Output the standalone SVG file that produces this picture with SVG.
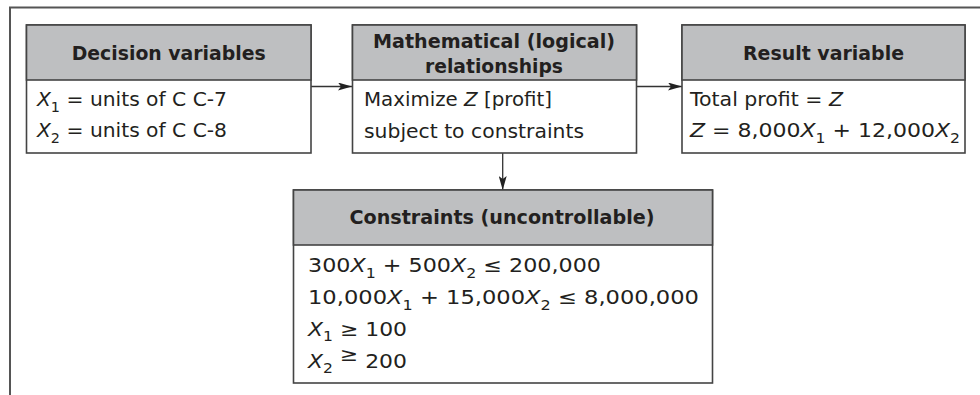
<svg xmlns="http://www.w3.org/2000/svg" width="980" height="395" viewBox="0 0 980 395">
<style>
.frame{fill:none;stroke:#555;stroke-width:2}
.box{fill:#fff;stroke:#444;stroke-width:1.6}
.hdr{fill:#bebfc1;stroke:#444;stroke-width:1.6}
.h{font-family:"DejaVu Sans",sans-serif;font-weight:bold;font-size:19px;fill:#231f20;text-anchor:middle}
.b{font-family:"DejaVu Sans",sans-serif;font-size:19px;fill:#231f20}
.i{font-style:italic}
.s{font-size:13.5px}
.conn{stroke:#333;stroke-width:1.3;fill:none}
</style>
<defs>
<marker id="arr" markerUnits="userSpaceOnUse" markerWidth="14" markerHeight="8" refX="14" refY="4" orient="auto">
<path d="M0,0 L14,4 L0,8 L3,4 z" fill="#222"/>
</marker>
</defs>
<path class="frame" d="M10,395 L10,7.5 L980,7.5"/>
<g id="connectors">
<line class="conn" x1="311" y1="86.5" x2="352" y2="86.5" marker-end="url(#arr)"/>
<line class="conn" x1="637" y1="86.5" x2="682" y2="86.5" marker-end="url(#arr)"/>
<line class="conn" x1="502.7" y1="153" x2="502.7" y2="190" marker-end="url(#arr)"/>
</g>
<g id="decision">
<rect class="box" x="26.5" y="25" width="284.5" height="128"/>
<rect class="hdr" x="26.5" y="25" width="284.5" height="55"/>
<text class="h" x="168.7" y="60" textLength="194" lengthAdjust="spacingAndGlyphs">Decision variables</text>
<text class="b" x="37" y="106" textLength="190" lengthAdjust="spacingAndGlyphs"><tspan class="i">X</tspan><tspan class="s" dy="6">1</tspan><tspan dy="-6"> = units of C C-7</tspan></text>
<text class="b" x="37" y="137" textLength="190" lengthAdjust="spacingAndGlyphs"><tspan class="i">X</tspan><tspan class="s" dy="6">2</tspan><tspan dy="-6"> = units of C C-8</tspan></text>
</g>
<g id="math">
<rect class="box" x="352.5" y="25" width="284" height="128"/>
<rect class="hdr" x="352.5" y="25" width="284" height="55"/>
<text class="h" x="494" y="48" textLength="242" lengthAdjust="spacingAndGlyphs">Mathematical (logical)</text>
<text class="h" x="494" y="72.5" textLength="138" lengthAdjust="spacingAndGlyphs">relationships</text>
<text class="b" x="364" y="106" textLength="188" lengthAdjust="spacingAndGlyphs">Maximize <tspan class="i">Z</tspan> [profit]</text>
<text class="b" x="364" y="138" textLength="220" lengthAdjust="spacingAndGlyphs">subject to constraints</text>
</g>
<g id="result">
<rect class="box" x="682" y="25" width="283" height="128"/>
<rect class="hdr" x="682" y="25" width="283" height="55"/>
<text class="h" x="823.5" y="60" textLength="161" lengthAdjust="spacingAndGlyphs">Result variable</text>
<text class="b" x="690" y="106" textLength="153" lengthAdjust="spacingAndGlyphs">Total profit = <tspan class="i">Z</tspan></text>
<text class="b" x="690" y="137" textLength="270" lengthAdjust="spacingAndGlyphs"><tspan class="i">Z</tspan> = 8,000<tspan class="i">X</tspan><tspan class="s" dy="6">1</tspan><tspan dy="-6"> + 12,000</tspan><tspan class="i">X</tspan><tspan class="s" dy="6">2</tspan></text>
</g>
<g id="constraints">
<rect class="box" x="293.5" y="190" width="419" height="193"/>
<rect class="hdr" x="293.5" y="190" width="419" height="55"/>
<text class="h" x="502" y="223.5" textLength="305" lengthAdjust="spacingAndGlyphs">Constraints (uncontrollable)</text>
<text class="b" x="308" y="272" textLength="293" lengthAdjust="spacingAndGlyphs">300<tspan class="i">X</tspan><tspan class="s" dy="6">1</tspan><tspan dy="-6"> + 500</tspan><tspan class="i">X</tspan><tspan class="s" dy="6">2</tspan><tspan dy="-6">  ≤  200,000</tspan></text>
<text class="b" x="308" y="304" textLength="391" lengthAdjust="spacingAndGlyphs">10,000<tspan class="i">X</tspan><tspan class="s" dy="6">1</tspan><tspan dy="-6"> + 15,000</tspan><tspan class="i">X</tspan><tspan class="s" dy="6">2</tspan><tspan dy="-6">  ≤  8,000,000</tspan></text>
<text class="b" x="308" y="336" textLength="99" lengthAdjust="spacingAndGlyphs"><tspan class="i">X</tspan><tspan class="s" dy="5">1</tspan><tspan dy="-5">  ≥  100</tspan></text>
<text class="b" x="308" y="368" textLength="99" lengthAdjust="spacingAndGlyphs"><tspan class="i">X</tspan><tspan class="s" dy="5">2</tspan><tspan dy="-12">  ≥</tspan><tspan dy="7">  200</tspan></text>
</g>
</svg>
